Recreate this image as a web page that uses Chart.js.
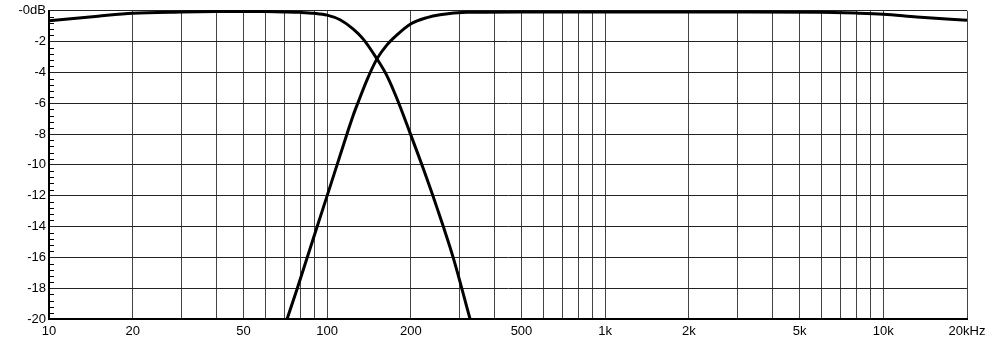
<!DOCTYPE html>
<html>
<head>
<meta charset="utf-8">
<script src="https://cdn.jsdelivr.net/npm/chart.js@4/dist/chart.umd.min.js"></script>
<style>
  html, body { margin: 0; padding: 0; background: #fff; }
</style>
</head>
<body>
<canvas id="fr" width="987" height="355"></canvas>
<script>
// woofer (low pass) response, Hz / dB
var lowFreq = [10, 15, 20, 30, 40, 50, 60, 70, 80, 90, 100, 111.3, 123.9, 134.7, 151.1, 164.2, 178.4, 198.7, 221.2, 248.5, 283.6, 326.6];
var lowDb   = [-0.65, -0.35, -0.16, -0.08, -0.05, -0.04, -0.05, -0.07, -0.1, -0.16, -0.28, -0.58, -1.17, -1.82, -3.12, -4.22, -5.71, -7.92, -10.19, -12.79, -15.97, -20];

// high pass response, Hz / dB
var highFreq = [71.8, 78, 84.7, 92, 100, 108.6, 117.9, 123.9, 129.1, 139.2, 151.1, 164.2, 178.4, 200.3, 228.7, 254.7, 318.5, 500, 1000, 3000, 6000, 8000, 10000, 13200, 20000];
var highDb   = [-20, -18.05, -16.04, -14.03, -12.01, -10.0, -7.99, -6.82, -5.97, -4.48, -3.12, -2.21, -1.56, -0.84, -0.44, -0.26, -0.1, -0.07, -0.07, -0.07, -0.1, -0.15, -0.22, -0.4, -0.62];

// x grid lines and which of them get a label
var gridFreqs = [10,20,30,40,50,60,70,80,90,100,200,300,400,500,600,700,800,900,1000,2000,3000,4000,5000,6000,7000,8000,9000,10000,20000];
var xLabels = {10:'10', 20:'20', 50:'50', 100:'100', 200:'200', 500:'500', 1000:'1k', 2000:'2k', 5000:'5k', 10000:'10k', 20000:'20kHz'};

function pts(fs, ds){
    return fs.map(function(f, i){ return {x: f, y: ds[i]}; });
}

// little ticks along the inside of the left edge
var minorTicks = {
    id: 'minorTicks',
    afterDatasetsDraw: function(chart){
        var y = chart.scales.y, ctx = chart.ctx, left = chart.chartArea.left;
        ctx.save();
        ctx.strokeStyle = '#000';
        ctx.lineWidth = 1;
        for (var i = 1; i < 50; i++) {
            if (i % 5 === 0) continue;
            var py = Math.round(y.getPixelForValue(-i * 0.4)) + 0.5;
            ctx.beginPath();
            ctx.moveTo(left, py);
            ctx.lineTo(left + 5, py);
            ctx.stroke();
        }
        ctx.restore();
    }
};

var ctx = document.getElementById('fr');
var chart = new Chart(ctx, {
    type: 'line',
    data: {
        datasets: [
            {
                data: pts(lowFreq, lowDb),
                borderColor: '#000',
                borderWidth: 3,
                pointRadius: 0,
                cubicInterpolationMode: 'monotone',
                clip: 4
            },
            {
                data: pts(highFreq, highDb),
                borderColor: '#000',
                borderWidth: 3,
                pointRadius: 0,
                cubicInterpolationMode: 'monotone',
                clip: 4
            }
        ]
    },
    options: {
        responsive: false,
        animation: false,
        layout: { padding: { top: 10, right: 20, left: 0, bottom: 0 } },
        plugins: {
            legend: { display: false },
            tooltip: { enabled: false }
        },
        scales: {
            x: {
                type: 'logarithmic',
                min: 10,
                max: 20000,
                afterBuildTicks: function(scale){
                    scale.ticks = gridFreqs.map(function(v){ return {value: v}; });
                },
                afterFit: function(scale){
                    scale.height = 36;
                    scale.paddingLeft = 0;
                    scale.paddingRight = 0;
                },
                ticks: {
                    autoSkip: false,
                    maxRotation: 0,
                    padding: 5,
                    color: '#000',
                    font: { family: 'Liberation Sans, Arial, sans-serif', size: 13 },
                    callback: function(v){ return xLabels[v] || ''; }
                },
                grid: { color: '#444', lineWidth: 1, drawTicks: false },
                border: { color: '#000', width: 2 }
            },
            y: {
                min: -20,
                max: 0,
                afterFit: function(scale){ scale.width = 49; },
                ticks: {
                    stepSize: 2,
                    padding: 3,
                    color: '#000',
                    font: { family: 'Liberation Sans, Arial, sans-serif', size: 13 },
                    callback: function(v){ return v === 0 ? '-0dB' : String(v); }
                },
                grid: { color: '#222', lineWidth: 1, drawTicks: false },
                border: { color: '#000', width: 2 }
            }
        }
    },
    plugins: [minorTicks]
});
</script>
</body>
</html>
